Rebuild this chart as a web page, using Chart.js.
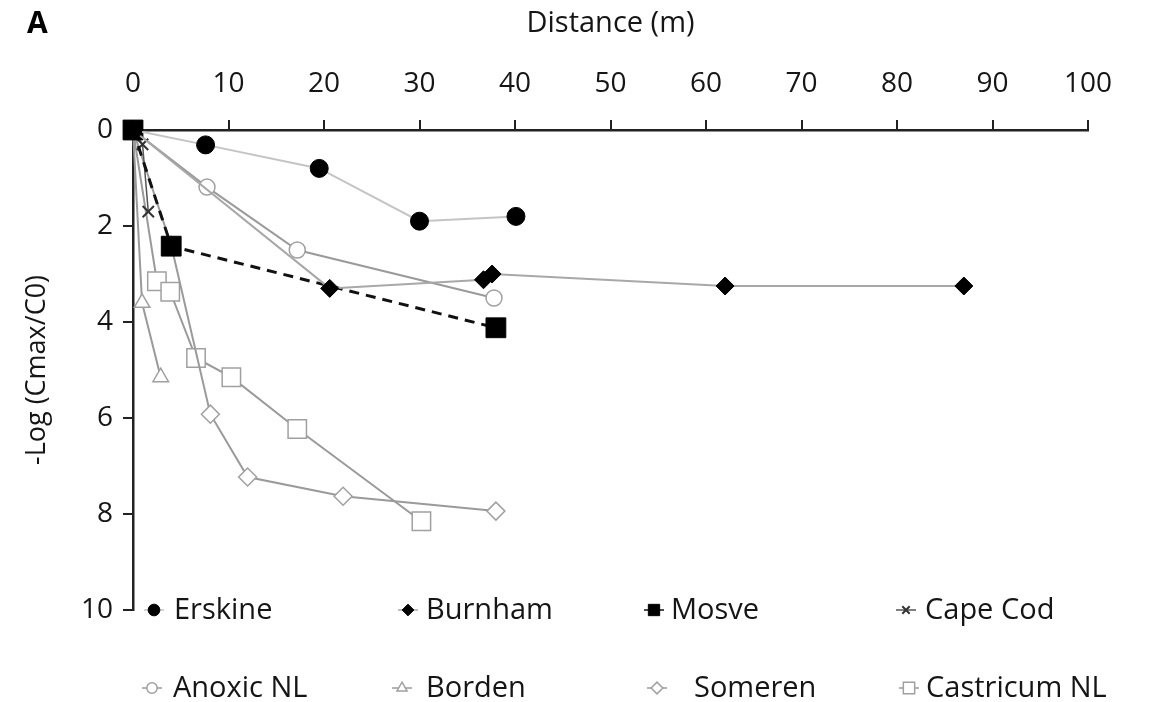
<!DOCTYPE html>
<html>
<head>
<meta charset="utf-8">
<script src="https://cdn.jsdelivr.net/npm/chart.js@4.4.1/dist/chart.umd.min.js"></script>
<style>
    html, body { margin: 0; padding: 0; background: #fff; }
    #wrap { width: 1150px; height: 702px; }
</style>
</head>
<body>
<div id="wrap"><canvas id="plumeChart"></canvas></div>
<script>
// distance (m) and -log(Cmax/C0) per site
const erskineX = [0, 7.6, 19.5, 30, 40.1];
const erskineY = [0, 0.31, 0.8, 1.9, 1.8];

const burnhamX = [0, 20.6, 36.7, 37.6, 62, 87];
const burnhamY = [0, 3.3, 3.12, 3.0, 3.25, 3.25];

const mosveX = [0, 4, 38];
const mosveY = [0, 2.42, 4.12];

const capeCodX = [0, 1, 1.6];
const capeCodY = [0, 0.3, 1.7];

const anoxicX = [0, 7.75, 17.2, 37.8];
const anoxicY = [0, 1.19, 2.5, 3.5];

const bordenX = [0, 0.95, 2.9];
const bordenY = [0, 3.6, 5.15];

const somerenX = [0, 4, 8.1, 12, 22, 38];
const somerenY = [0, 2.4, 5.92, 7.23, 7.63, 7.94];

const castricumX = [0, 2.5, 3.9, 6.6, 10.3, 17.2, 30.2];
const castricumY = [0, 3.15, 3.37, 4.75, 5.15, 6.23, 8.15];

const siteLabels = ['Erskine', 'Burnham', 'Mosve', 'Cape Cod', 'Anoxic NL', 'Borden', 'Someren', 'Castricum NL'];
const xTicks = [0, 10, 20, 30, 40, 50, 60, 70, 80, 90, 100];
const yTicks = [0, 2, 4, 6, 8, 10];

const FONT = '"Open Sans", Lato, sans-serif';
const INK = '#151515';

function pts(xs, ys) {
    return xs.map((x, i) => ({ x: x, y: ys[i] }));
}

const datasets = [
    { label: siteLabels[0], data: pts(erskineX, erskineY), borderColor: '#c4c4c4', borderWidth: 2,
      pointStyle: 'circle', pointRadius: 9, pointBackgroundColor: '#000', pointBorderColor: '#000', pointBorderWidth: 1 },
    { label: siteLabels[1], data: pts(burnhamX, burnhamY), borderColor: '#a8a8a8', borderWidth: 2,
      pointStyle: 'rectRot', pointRadius: 9, pointBackgroundColor: '#000', pointBorderColor: '#000', pointBorderWidth: 1 },
    { label: siteLabels[2], data: pts(mosveX, mosveY), borderColor: '#111', borderWidth: 3, borderDash: [10, 7],
      pointStyle: 'rect', pointRadius: 14, pointBackgroundColor: '#000', pointBorderColor: '#000', pointBorderWidth: 1 },
    { label: siteLabels[3], data: pts(capeCodX, capeCodY), borderColor: '#555', borderWidth: 1.5,
      pointStyle: 'crossRot', pointRadius: 8, pointBackgroundColor: '#333', pointBorderColor: '#333', pointBorderWidth: 2 },
    { label: siteLabels[4], data: pts(anoxicX, anoxicY), borderColor: '#9a9a9a', borderWidth: 2,
      pointStyle: 'circle', pointRadius: 8, pointBackgroundColor: '#fff', pointBorderColor: '#a0a0a0', pointBorderWidth: 1.5 },
    { label: siteLabels[5], data: pts(bordenX, bordenY), borderColor: '#9a9a9a', borderWidth: 2,
      pointStyle: 'triangle', pointRadius: 9, pointBackgroundColor: '#fff', pointBorderColor: '#a0a0a0', pointBorderWidth: 1.5 },
    { label: siteLabels[6], data: pts(somerenX, somerenY), borderColor: '#9a9a9a', borderWidth: 2,
      pointStyle: 'rectRot', pointRadius: 9, pointBackgroundColor: '#fff', pointBorderColor: '#a0a0a0', pointBorderWidth: 1.5 },
    { label: siteLabels[7], data: pts(castricumX, castricumY), borderColor: '#9a9a9a', borderWidth: 2,
      pointStyle: 'rect', pointRadius: 13, pointBackgroundColor: '#fff', pointBorderColor: '#a0a0a0', pointBorderWidth: 1.5 }
];
datasets.forEach(ds => { ds.clip = false; });

// legend sits in a grid partly over the bottom of the plot, so it is drawn by hand
const legendGrid = [
    { col: 154, row: 610, gap: 20 }, { col: 408, row: 610, gap: 18 }, { col: 654, row: 610, gap: 17 }, { col: 906, row: 610, gap: 19 },
    { col: 152, row: 688, gap: 21 }, { col: 402, row: 688, gap: 24 }, { col: 657, row: 688, gap: 37 }, { col: 909, row: 688, gap: 17 }
];

function drawMarker(ctx, style, x, y, r) {
    Chart.helpers.drawPoint(ctx, { pointStyle: style, radius: r, borderWidth: ctx.lineWidth }, x, y);
}

const panelLegend = {
    id: 'panelLegend',
    afterDraw(chart) {
        const ctx = chart.ctx;
        ctx.save();
        ctx.fillStyle = '#000';
        ctx.font = 'bold 30px ' + FONT;
        ctx.textBaseline = 'middle';
        ctx.fillText('A', 27, 24);

        ctx.font = '29px ' + FONT;
        chart.data.datasets.forEach((ds, i) => {
            const g = legendGrid[i];
            ctx.strokeStyle = ds.borderColor;
            ctx.lineWidth = 1.5;
            ctx.setLineDash([]);
            ctx.beginPath();
            ctx.moveTo(g.col - 10, g.row);
            ctx.lineTo(g.col + 10, g.row);
            ctx.stroke();
            ctx.fillStyle = ds.pointBackgroundColor;
            ctx.strokeStyle = ds.pointBorderColor;
            ctx.lineWidth = ds.pointBorderWidth;
            drawMarker(ctx, ds.pointStyle, g.col, g.row, Math.min(ds.pointRadius * 0.65, 8));
            ctx.fillStyle = INK;
            ctx.textAlign = 'left';
            ctx.fillText(ds.label, g.col + g.gap, g.row + 1);
        });
        ctx.restore();
    }
};

new Chart(document.getElementById('plumeChart'), {
    type: 'line',
    data: { datasets: datasets },
    options: {
        responsive: true,
        maintainAspectRatio: false,
        animation: false,
        layout: { padding: { left: 0, right: 62, top: 0, bottom: 92 } },
        plugins: { legend: { display: false }, tooltip: { enabled: false } },
        scales: {
            x: {
                type: 'linear',
                position: 'top',
                min: 0,
                max: 100,
                afterBuildTicks: (s) => { s.ticks = xTicks.map(v => ({ value: v })); },
                afterFit: (s) => { s.height = 130; },
                ticks: { font: { family: FONT, size: 28 }, color: INK, padding: 19 },
                grid: { drawOnChartArea: false, drawTicks: true, tickLength: 10, color: '#222', lineWidth: 2 },
                border: { color: '#222', width: 2.5 },
                title: { display: true, text: 'Distance (m)', font: { family: FONT, size: 29 }, color: INK, padding: { top: 6, bottom: 0 } }
            },
            y: {
                type: 'linear',
                reverse: true,
                min: 0,
                max: 10,
                afterBuildTicks: (s) => { s.ticks = yTicks.map(v => ({ value: v })); },
                afterFit: (s) => { s.width = 133; },
                ticks: { font: { family: FONT, size: 28 }, color: INK, padding: 10 },
                grid: { drawOnChartArea: false, drawTicks: true, tickLength: 10, color: '#222', lineWidth: 2 },
                border: { color: '#222', width: 2.5 },
                title: { display: true, text: '-Log (Cmax/C0)', font: { family: FONT, size: 27 }, color: INK, padding: { top: 21, bottom: 0 } }
            }
        }
    },
    plugins: [panelLegend]
});
</script>
</body>
</html>
